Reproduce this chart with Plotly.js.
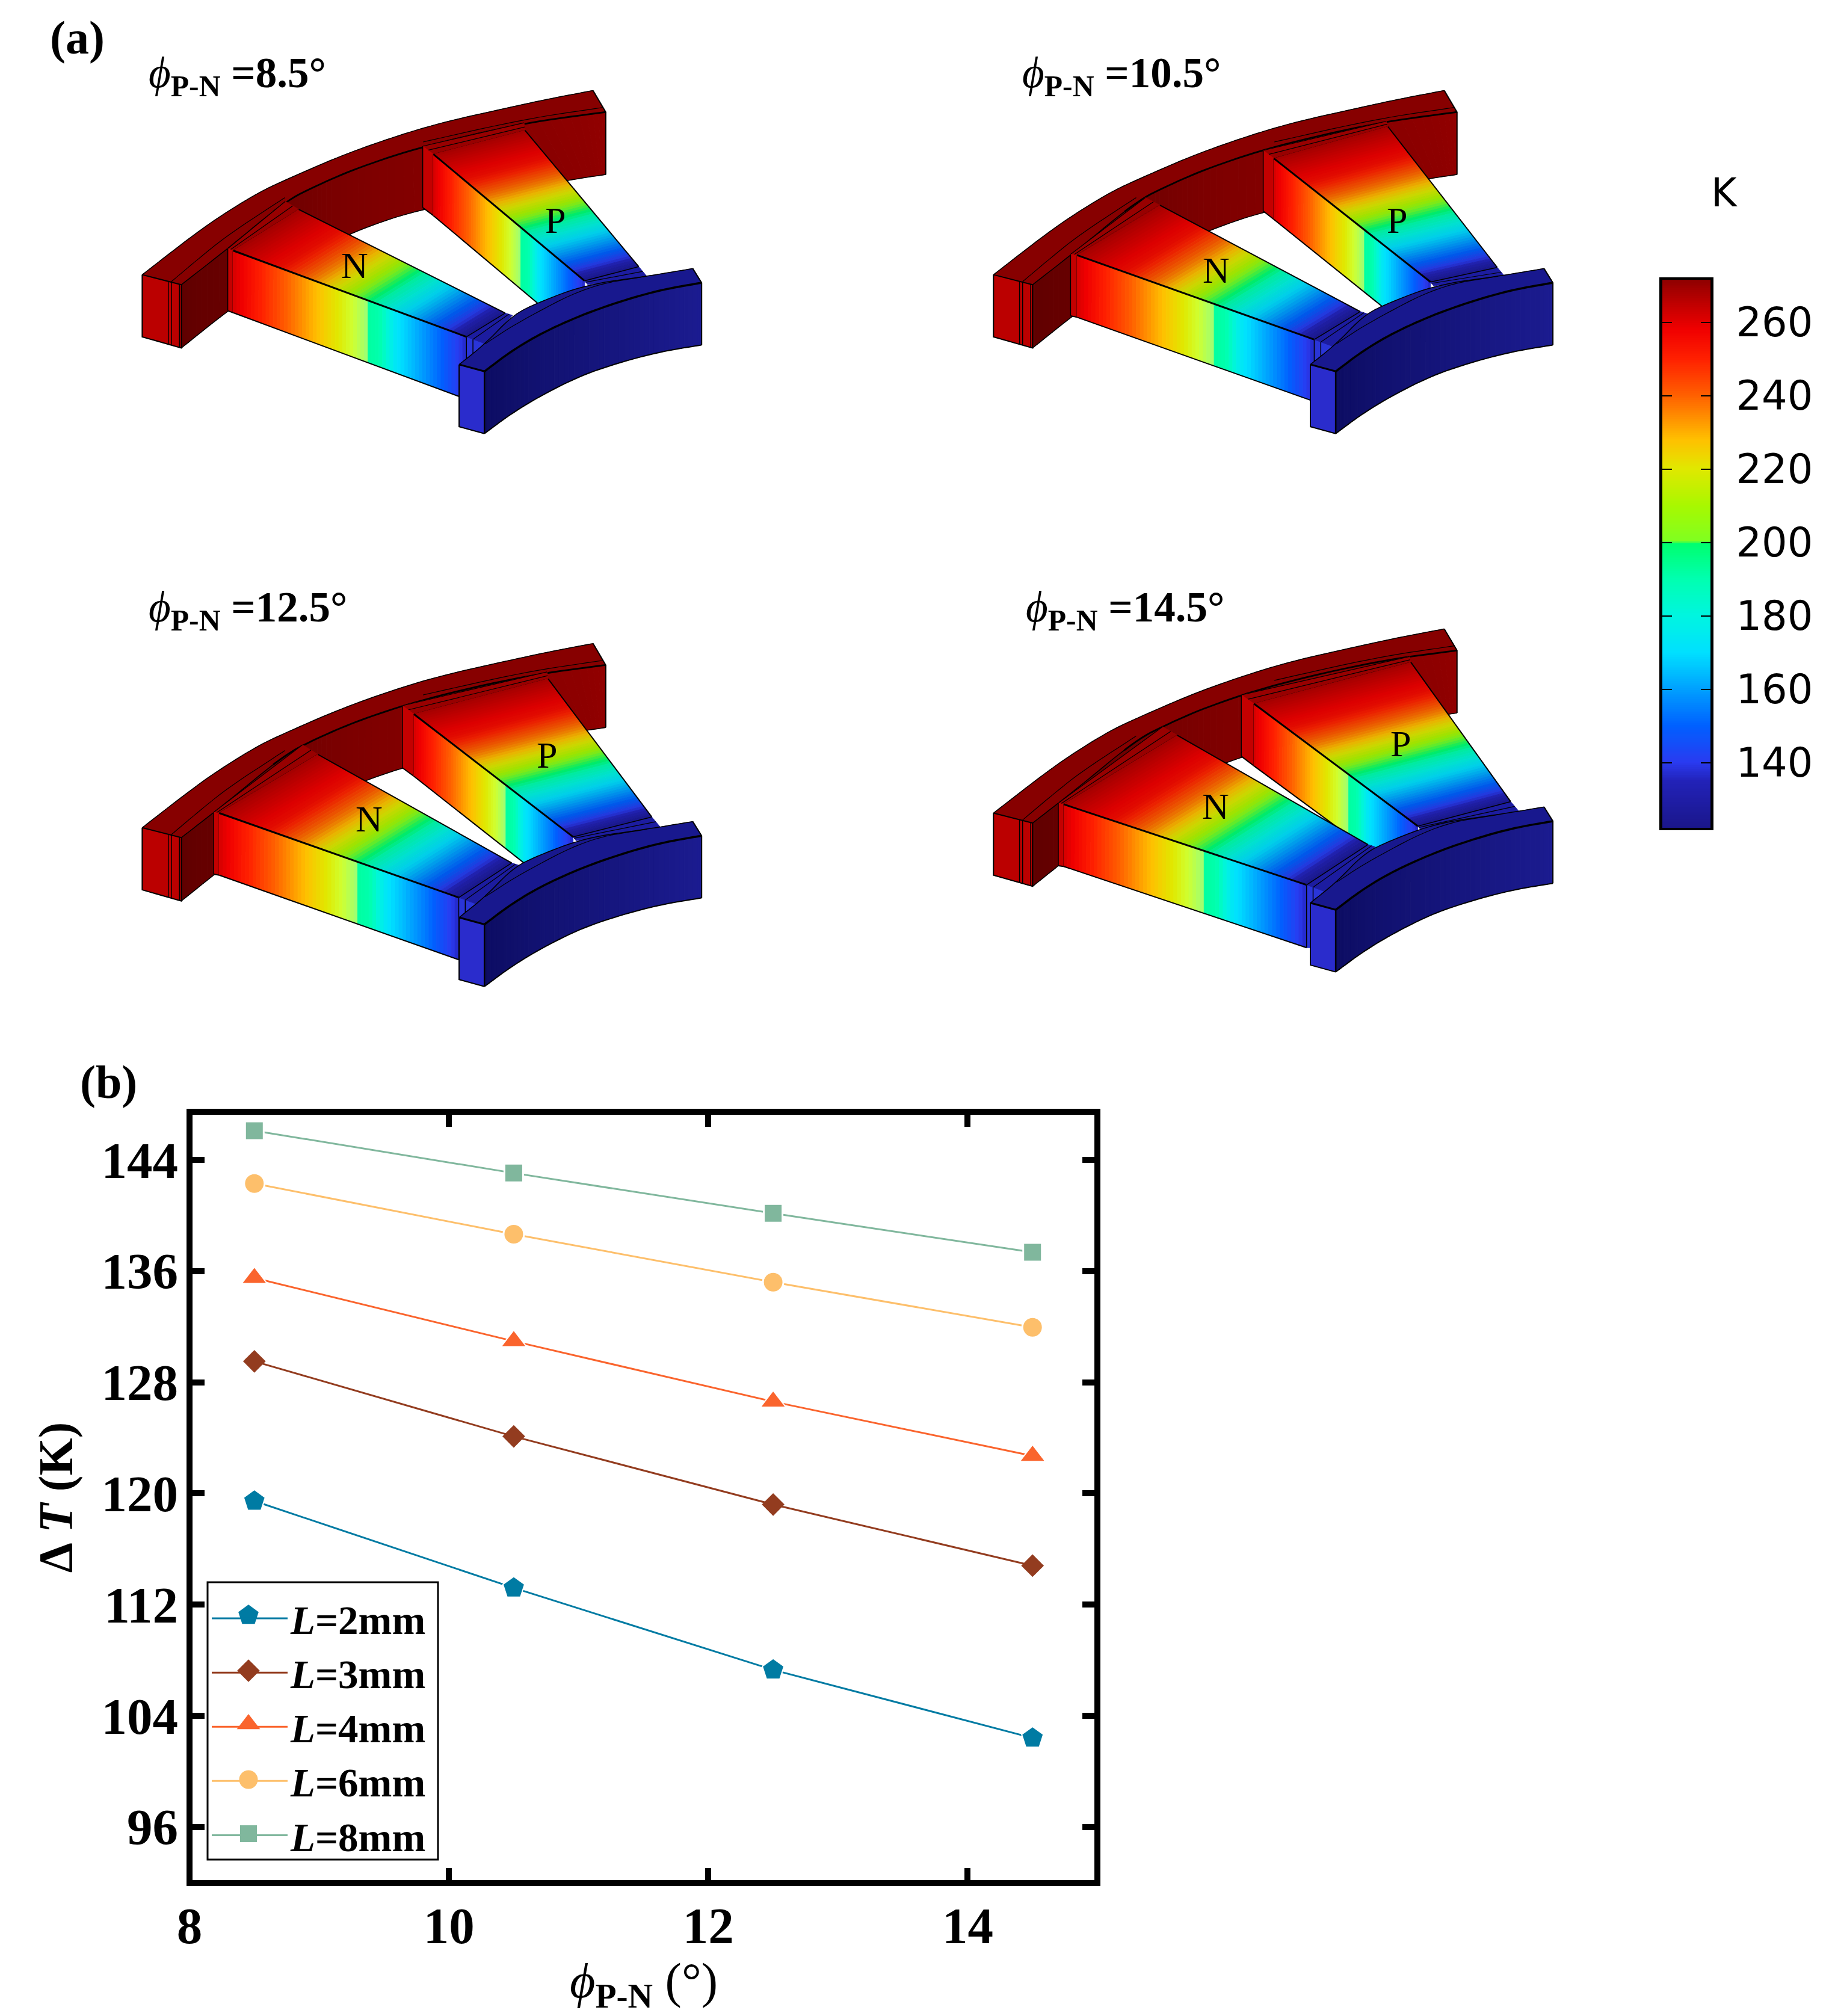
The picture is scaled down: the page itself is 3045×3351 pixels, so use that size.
<!DOCTYPE html>
<html><head><meta charset="utf-8">
<script src="https://cdn.plot.ly/plotly-3.0.1.min.js"></script>
<style>html,body{margin:0;padding:0;background:#fff}</style></head>
<body><div id="chart" style="width:3045px;height:3351px"></div>
<script>
// ---------- panel (b) data ----------
const phi = [8.5, 10.5, 12.5, 14.5];
const dT_L2 = [119.45, 113.2, 107.3, 102.4];
const dT_L3 = [129.5, 124.1, 119.2, 114.8];
const dT_L4 = [135.5, 130.95, 126.6, 122.7];
const dT_L6 = [142.3, 138.65, 135.2, 131.95];
const dT_L8 = [146.1, 143.05, 140.15, 137.35];
const seriesNames = ['<i>L</i>=2mm','<i>L</i>=3mm','<i>L</i>=4mm','<i>L</i>=6mm','<i>L</i>=8mm'];
const seriesColors = ['#007BA3','#933C1F','#FA642D','#FDBF6B','#80B79D'];
const seriesSymbols = ['pentagon','diamond','triangle-up','circle','square'];
const seriesSizes = [38,29,37,34,31];
const seriesEdge = [2,0,2,3,3];
const xTicks = [8,10,12,14];
const yTicks = [96,104,112,120,128,136,144];
const legendRows = [2685,2777,2866,2958,3048];

// ---------- colour scale (K) ----------
const cbTicks = [140,160,180,200,220,240,260];
const cbMin = 122, cbMax = 272;
const scaleT = [122,135,140,150,160,170,180,190,199.5,200.5,210,220,228,240,250,258,265,272];
const scaleC = ['#1a168a','#2222b8','#2a3af0','#0060ff','#00a0ff','#00e0ff','#00f5e0','#00ffb0','#00ff70','#80ff20','#a8f800','#e0e800','#ffc000','#ff6000','#ff2000','#f00000','#c00000','#8b0000'];
// the leg faces blend across 200 K differently from the bar
const sideScaleC = scaleC.map((c,i)=> i===8?'#00ffa0': i===9?'#a0ff70': i===10?'#d0ff30': c);
const topScaleT = [122,135,140,150,160,170,180,190,196,205,210,220,228,240,250,258,265,272];
// temperature along a leg (fraction of the leg -> K), read from the leg faces
const sideS = [0,.10,.34,.45,.537,.62,.70,.88,.97,1];
const sideT = [262,252,230,220,206,193,172,152,140,136];
const topS  = [0,.2,.35,.47,.56,.72,.88,1];
const topT  = [267,255,235,215,200,172,148,125];

// ---------- device outline, panel-crop units (1568 per 1000 figure px) ----------
const panelOrigin = [[200,0],[1620,0],[200,900],[1620,900]];
const blockShift  = [[0,0],[-8,0],[0,30],[-8,-8]];
const outerArc = [[57,716],[178,622],[256,566],[361,501],[439,465],[570,408],[700,361],[831,321],[1000,283],[1120,257],[1232,236]];
const innerUp  = [[159,742],[280,648],[429,525],[517,481],[622,436],[789,381],[1055,320],[1265,292]];
const innerLow = [[159,907],[280,810],[430,705],[517,650],[622,598],[788,543],[1168,469],[1265,455]];
const layerLineA = [[133,734],[204,674],[282,611],[429,515]];
const layerLineB = [[789,370],[1055,310],[1258,280]];
const coldBack = [[883,950],[951,896],[1022,822],[1085,790],[1213,742],[1372,720],[1492,700]];
const coldUp  = [[949,968],[1019,915],[1098,868],[1202,821],[1307,784],[1411,755],[1515,737]];
const coldLow = [[949,1130],[1019,1078],[1098,1030],[1202,978],[1307,943],[1411,916],[1515,899]];
const coldThin = [[951,896],[1040,838],[1218,745],[1372,720]];
// legs: arc point, strip, hot front, hot back, cold front, cold back, side bottom, strip bottom, bottom pass
const legN = [
 {arc:[430,525],strip:[280,648],hf:[294,653],hb:[465,546],cf:[902,878],cb:[1003,816],sb:[294,815],st:[280,810],pass:[882,1033]},
 {arc:[445,515],strip:[250,663],hf:[267,665],hb:[483,535],cf:[885,885],cb:[1005,812],sb:[267,827],st:[250,823],pass:[875,1043]},
 {arc:[475,530],strip:[243,706],hf:[258,708],hb:[515,555],cf:[882,928],cb:[1020,838],sb:[258,870],st:[243,867],pass:[882,1090]},
 {arc:[490,483],strip:[218,682],hf:[232,685],hb:[528,505],cf:[865,895],cb:[1025,790],sb:[232,847],st:[218,845],pass:[875,1062]}];
const legP = [
 {arc:[1052,320],strip:[788,381],hf:[816,402],hb:[1055,340],cf:[1210,732],cb:[1351,695],sb:[816,562],st:[788,541],pass:[1086,789]},
 {arc:[1073,316],strip:[752,392],hf:[780,413],hb:[1077,330],cf:[1188,735],cb:[1362,697],sb:[780,572],st:[752,550],pass:[1060,797]},
 {arc:[1112,340],strip:[735,428],hf:[765,450],hb:[1115,358],cf:[1180,770],cb:[1385,718],sb:[765,612],st:[735,590],pass:[1052,838]},
 {arc:[1133,300],strip:[695,400],hf:[728,423],hb:[1137,315],cf:[1155,742],cb:[1397,678],sb:[728,585],st:[695,560],pass:[880,697]}];

// ---------- panel text ----------
const panelTitles = ['8.5°','10.5°','12.5°','14.5°'];
const titleXY = [[245,126],[1697,126],[245,1014],[1703,1014]];
const labelN = [[589,441],[2021,449],[613,1361],[2020,1340]];
const labelP = [[923,366],[2322,366],[909,1255],[2328,1236]];

// ---------- helpers ----------
const W = 3045, H = 3351, S = 1000/1568, STRIPS = 64;
const hex = c => [1,3,5].map(i => parseInt(c.substr(i,2),16));
function tempColor(T, shade, st, sc){
  T = Math.max(cbMin, Math.min(cbMax, T));
  let i = 0; while(i < st.length-2 && T > st[i+1]) i++;
  const f = (T-st[i])/(st[i+1]-st[i]), a = hex(sc[i]), b = hex(sc[i+1]);
  return 'rgb('+a.map((v,k)=>Math.round((v+(b[k]-v)*f)*shade)).join(',')+')';
}
function lookup(xs, ys, x){
  let i = 0; while(i < xs.length-2 && x > xs[i+1]) i++;
  return ys[i]+(ys[i+1]-ys[i])*(x-xs[i])/(xs[i+1]-xs[i]);
}
function mix(a,b,f){const A=hex(a),B=hex(b);return 'rgb('+A.map((v,k)=>Math.round(v+(B[k]-v)*f)).join(',')+')';}
function smooth(pts){
  let p = pts;
  for(let r=0;r<3;r++){
    const q=[p[0]];
    for(let i=0;i<p.length-1;i++){
      const a=p[i],b=p[i+1];
      q.push([a[0]*.75+b[0]*.25,a[1]*.75+b[1]*.25],[a[0]*.25+b[0]*.75,a[1]*.25+b[1]*.75]);
    }
    q.push(p[p.length-1]); p=q;
  }
  return p;
}
const lerp=(a,b,t)=>[a[0]+(b[0]-a[0])*t,a[1]+(b[1]-a[1])*t];
const shapes = [];
function addPath(pts, close, fill, lineColor, lineWidth){
  shapes.push({type:'path',xref:'x2',yref:'y2',layer:'below',
    path:'M'+pts.map(p=>p[0].toFixed(1)+','+p[1].toFixed(1)).join('L')+(close?'Z':''),
    fillcolor:fill||'rgba(0,0,0,0)',line:{color:lineColor||'rgba(0,0,0,0)',width:lineWidth||0}});
}

function drawPanel(k){
  const [ox,oy]=panelOrigin[k], [bx,by]=blockShift[k];
  const abs=p=>[ox+S*p[0],oy+S*p[1]];           // leg points are already per-panel
  const base=p=>[ox+S*(p[0]+bx),oy+S*(p[1]+by)];// block points shift with the panel
  const poly=(pts,fill,lc,lw)=>addPath(pts,true,fill,lc,lw);
  const line=(pts,w)=>addPath(pts,false,null,'#000',w);
  const solid=(pts,c)=>poly(pts,c,c,1);

  // hot block
  const oa=smooth(outerArc).map(base), up=smooth(innerUp).map(base), low=smooth(innerLow).map(base);
  solid(oa.concat(up.slice().reverse()),'#870000');
  for(let i=0;i<up.length-1;i++){
    const f=i/(up.length-2);
    solid([up[i],up[i+1],low[i+1],low[i]], f<.45?mix('#5e0000','#780000',f/.45):mix('#780000','#920000',(f-.45)/.55));
  }
  const lf=[outerArc[0],innerUp[0],innerLow[0],[57,878]].map(base);
  solid(lf,'#bb0000');
  line(oa,1.5);
  line(smooth(layerLineA).map(base),1.2); line(smooth(layerLineB).map(base),1.2);
  line(lf.concat([lf[0]]),2);
  [125,133,154].forEach(x=>{const f=(x-57)/102;line([base([x,716+26*f]),base([x,878+29*f])],1.5);});
  const bend=Math.round(up.length*2/7);
  line(up.slice(0,bend+1),1.5); line(up.slice(bend),2.8);
  line([base(outerArc[outerArc.length-1]),base(innerUp[innerUp.length-1]),base(innerLow[innerLow.length-1])],2);
  line(low,1.5);

  // one leg
  function leg(L,isN){
    const hf=abs(L.hf),hb=abs(L.hb),cf=abs(L.cf),cb=abs(L.cb),sb=abs(L.sb),st=abs(L.st),ar=abs(L.arc),sr=abs(L.strip),pass=abs(L.pass);
    // band and strip next to the hot block
    solid([sr,hf,hb,ar],'#980000');
    line([lerp(sr,hf,.5),lerp(ar,hb,.55)],1.2); line([sr,ar],1.2); line([hf,hb],1.2);
    solid([sr,hf,sb,st],'#c40000');
    line([sr,st],1.5); line([hf,sb],1.5); line([st,sb],2);
    // side face, isotherms vertical
    const slope=(pass[1]-sb[1])/(pass[0]-sb[0]), br=[cf[0],sb[1]+slope*(cf[0]-sb[0])];
    for(let i=0;i<STRIPS;i++){
      const a=i/STRIPS,b=(i+1)/STRIPS,c=tempColor(lookup(sideS,sideT,(a+b)/2),1,scaleT,sideScaleC);
      solid([lerp(hf,cf,a),lerp(hf,cf,b),lerp(sb,br,b),lerp(sb,br,a)],c);
    }
    // top face, isotherms across the leg
    for(let i=0;i<STRIPS;i++){
      const a=i/STRIPS,b=(i+1)/STRIPS,c=tempColor(lookup(topS,topT,(a+b)/2),.92,topScaleT,scaleC);
      solid([lerp(hf,cf,a),lerp(hb,cb,a),lerp(hb,cb,b),lerp(hf,cf,b)],c);
    }
    line([hb,cb],2); line([sb,br],2); line([hf,cf],3);
    // band next to the cold block
    const ext=isN?[[S*19,S*6],[S*49,S*18]]:[[S*21,S*25],[S*8,S*10]];
    const e1=[cb[0]+ext[0][0],cb[1]+ext[0][1]], e2=[cf[0]+ext[1][0],cf[1]+ext[1][1]];
    if(isN){ solid([cf,e2,[e2[0],br[1]],br],'#2a35d8'); line([cf,br],1.5); line([[cf[0]+S*17,cf[1]+S*6],[cf[0]+S*17,br[1]]],1.5); }
    solid([cf,cb,e1,e2],'#1c1ca0');
    line([lerp(cf,e2,.35),lerp(cb,e1,.5)],1.2); line([cf,cb],1.5);
  }
  leg(legP[k],false);
  leg(legN[k],true);

  // cold block
  const cbk=smooth(coldBack).map(base), cu=smooth(coldUp).map(base), cl=smooth(coldLow).map(base);
  const lt=base([883,950]), ll=base([883,1112]), fc=base([949,968]), fl=base([949,1130]);
  solid(cbk.concat([base([1515,737])],cu.slice().reverse(),[lt]),'#18188e');
  for(let i=0;i<cu.length-1;i++) solid([cu[i],cu[i+1],cl[i+1],cl[i]],mix('#0c0c60','#1c1c92',i/(cu.length-2)));
  solid([lt,fc,fl,ll],'#2a2ccc');
  line(cbk,1.5); line(smooth(coldThin).map(base),1.2);
  line([base([1492,700]),base([1515,737]),base([1515,899])],2);
  line(cl,2); line(cu,3.5); line([lt,fc],3);
  line([fc,fl],2.5); line([lt,ll,fl],2);
}
[0,1,2,3].forEach(drawPanel);

// legend box, under its keys
const legendBox = {l:345,t:2630,r:728,b:3091};
shapes.push({type:'rect',xref:'x2',yref:'y2',layer:'below',x0:legendBox.l,x1:legendBox.r,y0:legendBox.t,y1:legendBox.b,fillcolor:'#fff',line:{width:3,color:'#000'}});
// frame of panel (b)
shapes.push({type:'rect',xref:'x domain',yref:'y domain',x0:0,x1:1,y0:0,y1:1,layer:'above',line:{color:'#000',width:10},fillcolor:'rgba(0,0,0,0)'});

// ---------- traces ----------
const serif='"Liberation Serif","Times New Roman",serif';
const allSeries=[dT_L2,dT_L3,dT_L4,dT_L6,dT_L8];
const traces=allSeries.map((y,i)=>({
  type:'scatter',mode:'lines',x:phi,y:y,name:seriesNames[i],legendgroup:'g'+i,
  line:{color:seriesColors[i],width:3}
}));
allSeries.forEach((y,i)=>traces.push({
  type:'scatter',mode:'markers',x:phi,y:y,name:seriesNames[i],showlegend:false,
  marker:{symbol:seriesSymbols[i],size:seriesSizes[i],color:seriesColors[i],line:{color:'#fff',width:seriesEdge[i]}}
}));
// legend keys at full marker size
traces.push({type:'scatter',mode:'markers',xaxis:'x2',yaxis:'y2',showlegend:false,hoverinfo:'skip',
  x:legendRows.map(()=>413),y:legendRows,
  marker:{symbol:seriesSymbols,size:seriesSizes,color:seriesColors,opacity:1,line:{color:'#fff',width:seriesEdge}}});
// colour bar
const levels=[]; for(let T=cbMin;T<=cbMax;T+=0.5) levels.push(T);
traces.push({type:'heatmap',xaxis:'x3',yaxis:'y3',x:[0],y:levels,z:levels.map(T=>[T]),zmin:cbMin,zmax:cbMax,showscale:false,hoverinfo:'skip',
  colorscale:scaleT.map((t,i)=>[(t-cbMin)/(cbMax-cbMin),scaleC[i]])});

// ---------- annotations ----------
const ann=[];
const pt=(x,y,text,size,extra)=>ann.push(Object.assign({xref:'paper',yref:'paper',x:x/W,y:1-y/H,text:text,showarrow:false,
  xanchor:'center',yanchor:'middle',font:{family:serif,size:size,color:'#000'}},extra||{}));
pt(128,62,'<b>(a)</b>',78);
pt(180,1798,'<b>(b)</b>',78);
panelTitles.forEach((t,i)=>{
  pt(titleXY[i][0],titleXY[i][1],'<i>ϕ</i><b><sub>P-N</sub> ='+t+'</b>',71,{xanchor:'left'});
  pt(labelN[i][0],labelN[i][1],'N',62);
  pt(labelP[i][0],labelP[i][1],'P',62);
});
pt(1070,3298,'<i>ϕ</i><b><sub>P-N</sub></b> (°)',82);
ann.push({xref:'paper',yref:'paper',x:2866/W,y:1-320/H,text:'K',showarrow:false,xanchor:'center',yanchor:'middle',font:{family:'"DejaVu Sans"',size:65,color:'#000'}});

// ---------- layout ----------
const layout={
  width:W,height:H,margin:{l:0,r:0,t:0,b:0,pad:0,autoexpand:false},
  paper_bgcolor:'#fff',plot_bgcolor:'rgba(0,0,0,0)',
  xaxis:{domain:[315/W,1824/W],range:[8,15],tickmode:'array',tickvals:xTicks,ticks:'inside',ticklen:25,tickwidth:10,tickcolor:'#000',
    mirror:'ticks',showline:false,showgrid:false,zeroline:false,automargin:false,ticklabelstandoff:14,
    tickfont:{family:serif,size:85,weight:'bold',color:'#000'}},
  yaxis:{domain:[1-3130/H,1-1848/H],range:[91.96,147.46],tickmode:'array',tickvals:yTicks,ticks:'inside',ticklen:25,tickwidth:10,tickcolor:'#000',
    mirror:'ticks',showline:false,showgrid:false,zeroline:false,automargin:false,ticklabelstandoff:18,
    tickfont:{family:serif,size:85,weight:'bold',color:'#000'},
    title:{text:'Δ\u2009<i>T</i> (K)',standoff:21,font:{family:serif,size:80,weight:'bold',color:'#000'}}},
  xaxis2:{domain:[0,1],range:[0,W],visible:false,anchor:'y2',fixedrange:true},
  yaxis2:{domain:[0,1],range:[H,0],visible:false,anchor:'x2',fixedrange:true},
  xaxis3:{domain:[2763/W,2843/W],range:[-.5,.5],anchor:'y3',showticklabels:false,ticks:'',showgrid:false,zeroline:false,showline:true,linewidth:4,linecolor:'#000',mirror:true,fixedrange:true},
  yaxis3:{domain:[1-1376/H,1-465/H],range:[122.3,271.6],anchor:'x3',side:'right',tickmode:'array',tickvals:cbTicks,ticks:'inside',ticklen:16,tickwidth:2.5,tickcolor:'#000',
    showgrid:false,zeroline:false,showline:true,linewidth:5,linecolor:'#000',mirror:'ticks',ticklabelstandoff:24,fixedrange:true,
    tickfont:{family:'"DejaVu Sans"',size:67,color:'#000'}},
  shapes:shapes,annotations:ann,showlegend:true,
  legend:{x:347/W,y:1-2640/H,xanchor:'left',yanchor:'top',xref:'paper',yref:'paper',bgcolor:'rgba(0,0,0,0)',borderwidth:0,
    traceorder:'grouped',tracegroupgap:0,itemwidth:126,
    font:{family:serif,size:67,weight:'bold',color:'#000'}}
};
Plotly.newPlot('chart',traces,layout,{displayModeBar:false,staticPlot:true});
</script></body></html>
